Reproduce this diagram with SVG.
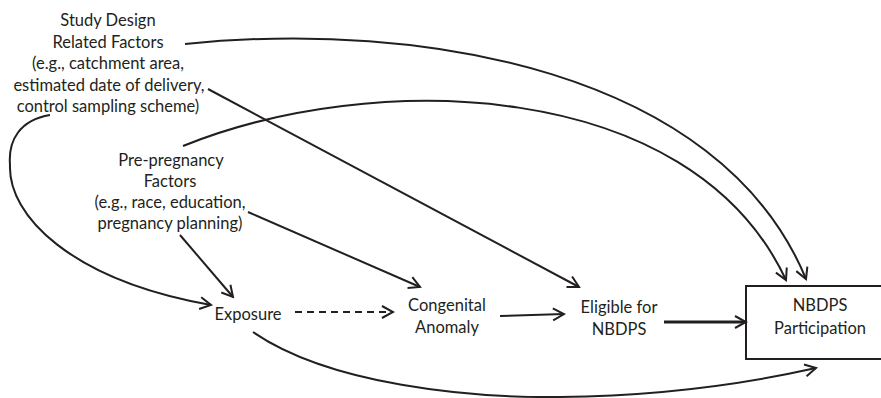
<svg xmlns="http://www.w3.org/2000/svg" width="881" height="398" viewBox="0 0 881 398">
<style>
text{font-family:"Lato","Open Sans",sans-serif;font-size:16.5px;fill:#231f20;text-anchor:middle}
.c{fill:none;stroke:#231f20;stroke-width:2}
.d{stroke-dasharray:7,5}
.t{stroke-width:3}
</style>
<defs>
<marker id="ah" markerUnits="userSpaceOnUse" markerWidth="16" markerHeight="16" viewBox="0 0 16 16" refX="14" refY="8" orient="auto">
<path d="M3,2 L14,8 L3,14" fill="none" stroke="#231f20" stroke-width="2"/>
</marker>
</defs>
<rect width="881" height="398" fill="#fff"/>
<g id="study">
<text x="108" y="26">Study Design</text>
<text x="108" y="48">Related Factors</text>
<text x="108" y="69">(e.g., catchment area,</text>
<text x="109" y="91">estimated date of delivery,</text>
<text x="108" y="112">control sampling scheme)</text>
</g>
<g id="prepreg">
<text x="171" y="166">Pre-pregnancy</text>
<text x="170" y="187">Factors</text>
<text x="170" y="208">(e.g., race, education,</text>
<text x="170" y="229">pregnancy planning)</text>
</g>
<g id="exposure"><text x="248" y="320">Exposure</text></g>
<g id="anomaly"><text x="447" y="311">Congenital</text><text x="447" y="333">Anomaly</text></g>
<g id="eligible"><text x="619" y="313">Eligible for</text><text x="619" y="335">NBDPS</text></g>
<g id="participation">
<rect x="746" y="286" width="150" height="73" fill="none" stroke="#231f20" stroke-width="2"/>
<text x="820" y="311">NBDPS</text>
<text x="820" y="334">Participation</text>
</g>
<g id="connectors">
<path class="c" d="M185,44 C420,20 720,70 806,279" marker-end="url(#ah)"/>
<path class="c" d="M183,146 C370,70 690,75 786,280" marker-end="url(#ah)"/>
<path class="c" d="M208,89 L579,287" marker-end="url(#ah)"/>
<path class="c" d="M50,115 C20,120 8,140 10,165 C8,215 70,280 211,305" marker-end="url(#ah)"/>
<path class="c" d="M248,212 L420,287" marker-end="url(#ah)"/>
<path class="c" d="M180,235 L233,297" marker-end="url(#ah)"/>
<path class="c d" d="M295,312 L393,312" marker-end="url(#ah)"/>
<path class="c" d="M500,316 L564,314" marker-end="url(#ah)"/>
<path class="c t" d="M664,322 L746,322" marker-end="url(#ah)"/>
<path class="c" d="M253,332 C330,385 470,398 560,397 C650,396 740,385 816,368" marker-end="url(#ah)"/>
</g>
</svg>
